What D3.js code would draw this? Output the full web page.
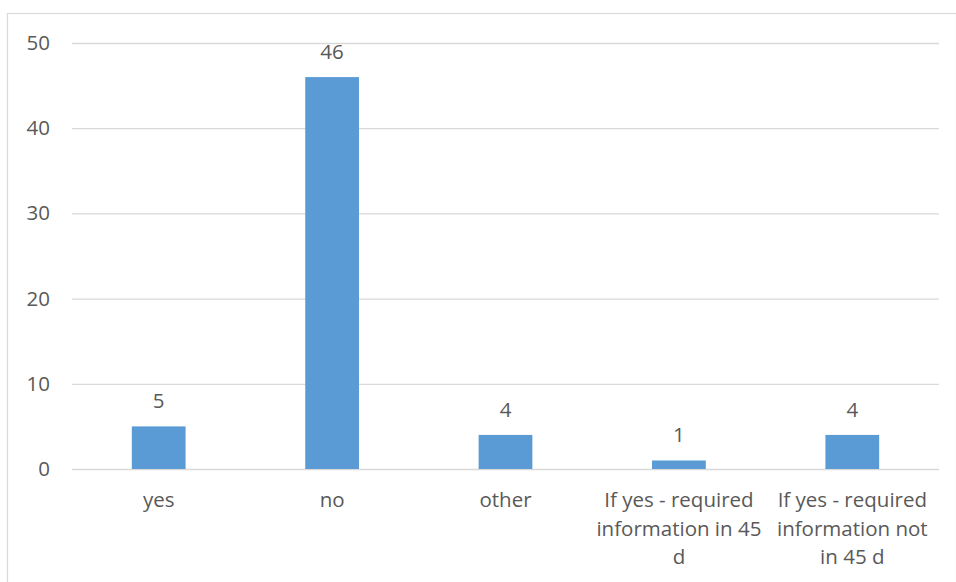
<!DOCTYPE html>
<html>
<head>
<meta charset="utf-8">
<script src="https://cdn.jsdelivr.net/npm/d3@7"></script>
<style>
  html, body { margin: 0; padding: 0; background: #fff; }
  svg { display: block; }
  text { font-family: "Open Sans", "Noto Sans", sans-serif; fill: #595959; }
</style>
</head>
<body>
<svg id="chart" width="956" height="582"></svg>
<script>
// Category keys and the lines each axis label is broken into
const categories = ["yes", "no", "other", "inDays", "notInDays"];
const categoryLines = [
  ["yes"],
  ["no"],
  ["other"],
  ["If yes - required", "information in 45", "d"],
  ["If yes - required", "information not", "in 45 d"]
];
const values = [5, 46, 4, 1, 4];
const yTicks = [0, 10, 20, 30, 40, 50];

const svg = d3.select("#chart");
const margin = { left: 72, right: 17, top: 43, bottom: 113 };
const W = 956, H = 582;

// chart-area frame
svg.append("rect")
  .attr("x", 7.5).attr("y", 13.5)
  .attr("width", W - 7).attr("height", H)
  .attr("fill", "#fff").attr("stroke", "#d9d9d9").attr("stroke-width", 1.2);

const x = d3.scaleBand()
  .domain(categories)
  .range([margin.left, W - margin.right])
  .paddingInner(0.69).paddingOuter(0.345);

const y = d3.scaleLinear()
  .domain([0, 50])
  .range([H - margin.bottom, margin.top]);

// horizontal gridlines with value labels
const yAxis = d3.axisLeft(y)
  .tickValues(yTicks)
  .tickSize(-(W - margin.right - margin.left))
  .tickPadding(22);
const gy = svg.append("g")
  .attr("transform", `translate(${margin.left},0)`)
  .call(yAxis);
gy.select(".domain").remove();
gy.selectAll(".tick line").attr("stroke", "#d9d9d9").attr("stroke-width", 1.3);
gy.selectAll(".tick text")
  .attr("fill", "#595959")
  .style("font-size", "20.5px")
  .style("font-family", "\"Open Sans\", sans-serif");

// bars
svg.append("g").selectAll("rect")
  .data(values)
  .join("rect")
  .attr("x", (d, i) => x(categories[i]))
  .attr("width", x.bandwidth())
  .attr("y", d => y(d))
  .attr("height", d => y(0) - y(d))
  .attr("fill", "#5b9bd5");

// value labels above bars
svg.append("g").selectAll("text")
  .data(values)
  .join("text")
  .attr("x", (d, i) => x(categories[i]) + x.bandwidth() / 2)
  .attr("y", d => y(d) - 18)
  .attr("text-anchor", "middle")
  .style("font-size", "20.5px")
  .text(d => d);

// category labels (multi-line)
const labels = svg.append("g").selectAll("text")
  .data(categoryLines)
  .join("text")
  .attr("text-anchor", "middle")
  .attr("transform", (d, i) => `translate(${x(categories[i]) + x.bandwidth() / 2},${y(0) + 38})`)
  .style("font-size", "20.5px");
labels.selectAll("tspan")
  .data(d => d)
  .join("tspan")
  .attr("x", 0)
  .attr("dy", (d, j) => j === 0 ? 0 : 28.5)
  .text(d => d);
</script>
</body>
</html>
